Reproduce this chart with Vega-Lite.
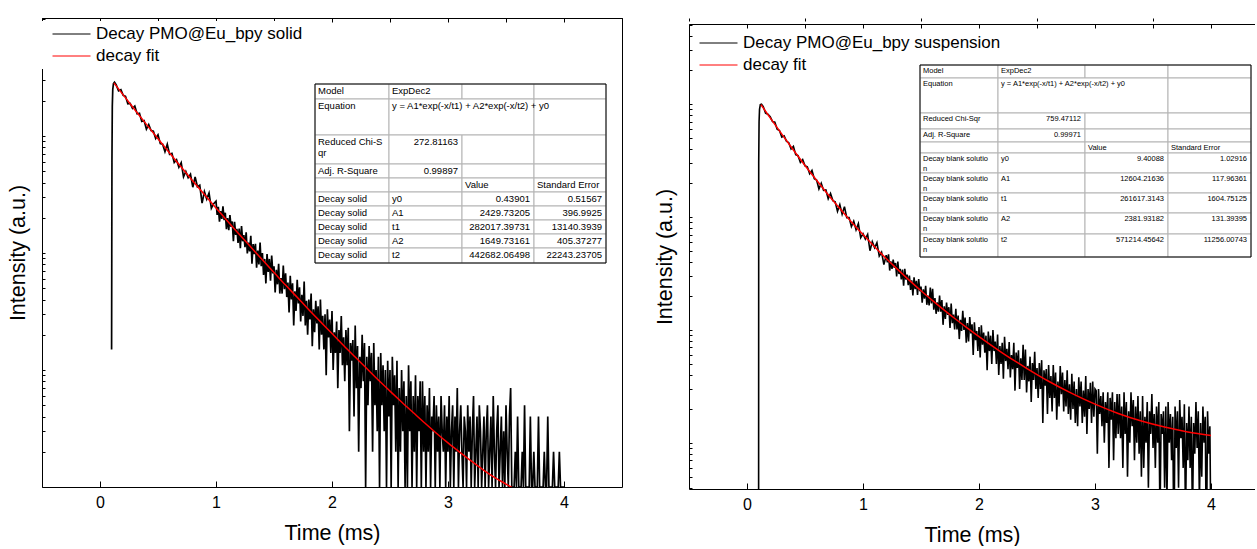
{
  "$schema": "https://vega.github.io/schema/vega-lite/v6.json",
  "background": "white",
  "padding": {"left": 7, "top": 17, "right": 0, "bottom": 0},
  "spacing": 31,
  "config": {
    "font": "Liberation Sans",
    "view": {"stroke": "black", "strokeWidth": 1},
    "axis": {"grid": false, "labelFont": "Liberation Sans", "titleFont": "Liberation Sans", "labelColor": "black", "titleColor": "black", "tickColor": "black", "domainColor": "black", "titleFontWeight": "normal", "labelFontSize": 16, "titleFontSize": 21.5},
    "legend": {"symbolType": "stroke", "symbolSize": 1444, "symbolStrokeWidth": 1, "symbolOffset": 10, "labelOffset": 5, "labelFontSize": 17, "labelFont": "Liberation Sans", "labelColor": "black", "rowPadding": 4, "clipHeight": 18, "padding": 4, "labelLimit": 500}
  },
  "datasets": {
    "solid": [{"t":0.1,"v":15},{"t":0.103,"v":600},{"t":0.106,"v":1800},{"t":0.11,"v":2500},{"t":0.116,"v":2800},{"t":0.125,"v":2880},{"t":0.14,"v":2730},{"t":0.16,"v":2437},{"t":0.18,"v":2489},{"t":0.2,"v":2224},{"t":0.22,"v":2184},{"t":0.24,"v":1882},{"t":0.26,"v":1897},{"t":0.28,"v":1722},{"t":0.3,"v":1801},{"t":0.32,"v":1550},{"t":0.34,"v":1563},{"t":0.36,"v":1332},{"t":0.38,"v":1355},{"t":0.4,"v":1143},{"t":0.42,"v":1254},{"t":0.44,"v":1112},{"t":0.46,"v":1098},{"t":0.48,"v":952},{"t":0.5,"v":1024},{"t":0.52,"v":860},{"t":0.54,"v":850},{"t":0.56,"v":735},{"t":0.58,"v":851},{"t":0.6,"v":697},{"t":0.62,"v":711},{"t":0.64,"v":593},{"t":0.66,"v":626},{"t":0.68,"v":540},{"t":0.7,"v":591},{"t":0.72,"v":448},{"t":0.74,"v":498},{"t":0.76,"v":440},{"t":0.78,"v":471},{"t":0.8,"v":365},{"t":0.82,"v":446},{"t":0.84,"v":368},{"t":0.86,"v":379},{"t":0.88,"v":267},{"t":0.9,"v":334},{"t":0.92,"v":289},{"t":0.94,"v":325},{"t":0.96,"v":241},{"t":0.98,"v":264},
      {"t":1,"v":277},{"t":1.01,"v":212},{"t":1.02,"v":248},{"t":1.03,"v":185},{"t":1.04,"v":228},{"t":1.05,"v":196},{"t":1.06,"v":250},{"t":1.07,"v":191},{"t":1.08,"v":221},{"t":1.09,"v":160},{"t":1.1,"v":199},{"t":1.11,"v":157},{"t":1.12,"v":211},{"t":1.13,"v":167},{"t":1.14,"v":186},{"t":1.15,"v":126},{"t":1.16,"v":185},{"t":1.17,"v":143},{"t":1.18,"v":161},{"t":1.19,"v":122},
      {"t":1.2,"v":162},{"t":1.21,"v":110},{"t":1.22,"v":170},{"t":1.23,"v":126},{"t":1.24,"v":142},{"t":1.25,"v":112},{"t":1.26,"v":150},{"t":1.27,"v":99},{"t":1.28,"v":123},{"t":1.29,"v":103},{"t":1.3,"v":140},{"t":1.31,"v":81},{"t":1.32,"v":119},{"t":1.33,"v":98},{"t":1.34,"v":120},{"t":1.35,"v":75},{"t":1.36,"v":105},{"t":1.37,"v":80},{"t":1.38,"v":123},{"t":1.39,"v":77},
      {"t":1.4,"v":100},{"t":1.41,"v":65},{"t":1.42,"v":89},{"t":1.43,"v":55},{"t":1.44,"v":98},{"t":1.45,"v":69},{"t":1.46,"v":89},{"t":1.47,"v":58},{"t":1.48,"v":95},{"t":1.49,"v":67},{"t":1.5,"v":77},{"t":1.51,"v":46},{"t":1.52,"v":72},{"t":1.53,"v":54},{"t":1.54,"v":81},{"t":1.55,"v":45},{"t":1.56,"v":61},{"t":1.57,"v":45},{"t":1.58,"v":78},{"t":1.59,"v":49},
      {"t":1.6,"v":67},{"t":1.61,"v":42},{"t":1.62,"v":56},{"t":1.63,"v":31},{"t":1.64,"v":64},{"t":1.65,"v":40},{"t":1.66,"v":55},{"t":1.67,"v":24},{"t":1.68,"v":47},{"t":1.69,"v":32},{"t":1.7,"v":59},{"t":1.71,"v":37},{"t":1.72,"v":51},{"t":1.73,"v":26},{"t":1.74,"v":44},{"t":1.75,"v":29},{"t":1.76,"v":57},{"t":1.77,"v":24},{"t":1.78,"v":39},{"t":1.79,"v":20},
      {"t":1.8,"v":40},{"t":1.81,"v":27},{"t":1.82,"v":45},{"t":1.83,"v":16},{"t":1.84,"v":33},{"t":1.85,"v":21},{"t":1.86,"v":39},{"t":1.87,"v":25},{"t":1.88,"v":35},{"t":1.89,"v":15},{"t":1.9,"v":40},{"t":1.91,"v":20},{"t":1.92,"v":29},{"t":1.93,"v":15},{"t":1.94,"v":30},{"t":1.95,"v":9},{"t":1.96,"v":33},{"t":1.97,"v":19},{"t":1.98,"v":27},{"t":1.99,"v":14},
      {"t":2,"v":32},{"t":2.01,"v":10},{"t":2.02,"v":21},{"t":2.03,"v":14},{"t":2.04,"v":26},{"t":2.05,"v":7},{"t":2.06,"v":22},{"t":2.07,"v":14},{"t":2.08,"v":29},{"t":2.09,"v":11},{"t":2.1,"v":19},{"t":2.11,"v":8},{"t":2.12,"v":22},{"t":2.13,"v":11},{"t":2.14,"v":23},{"t":2.15,"v":3},{"t":2.16,"v":17},{"t":2.17,"v":12},{"t":2.18,"v":18},{"t":2.19,"v":4},
      {"t":2.2,"v":24},{"t":2.21,"v":7},{"t":2.22,"v":16},{"t":2.23,"v":2},{"t":2.24,"v":13},{"t":2.25,"v":7},{"t":2.26,"v":20},{"t":2.27,"v":8},{"t":2.28,"v":17},{"t":2.29,"v":1},{"t":2.3,"v":13},{"t":2.31,"v":5},{"t":2.32,"v":16},{"t":2.33,"v":8},{"t":2.34,"v":14},{"t":2.35,"v":2},{"t":2.36,"v":17},{"t":2.37,"v":5},{"t":2.38,"v":10},{"t":2.39,"v":3},
      {"t":2.4,"v":13},{"t":2.41,"v":1},{"t":2.42,"v":14},{"t":2.43,"v":5},{"t":2.44,"v":11},{"t":2.45,"v":3},{"t":2.46,"v":10},{"t":2.47,"v":1},{"t":2.48,"v":12},{"t":2.49,"v":4},{"t":2.5,"v":10},{"t":2.51,"v":1},{"t":2.52,"v":13},{"t":2.53,"v":5},{"t":2.54,"v":9},{"t":2.55,"v":2},{"t":2.56,"v":12},{"t":2.57,"v":1},{"t":2.58,"v":7},{"t":2.59,"v":2},
      {"t":2.6,"v":10},{"t":2.61,"v":3},{"t":2.62,"v":8},{"t":2.63,"v":1},{"t":2.64,"v":6},{"t":2.65,"v":1},{"t":2.66,"v":11},{"t":2.67,"v":3},{"t":2.68,"v":8},{"t":2.69,"v":1},{"t":2.7,"v":6},{"t":2.71,"v":2},{"t":2.72,"v":9},{"t":2.73,"v":1},{"t":2.74,"v":6},{"t":2.75,"v":3},{"t":2.76,"v":8},{"t":2.77,"v":1},{"t":2.78,"v":8},{"t":2.79,"v":2},{"t":2.8,"v":6},
      {"t":2.81,"v":1},{"t":2.82,"v":5},{"t":2.83,"v":2},{"t":2.84,"v":7},{"t":2.85,"v":1},{"t":2.86,"v":4},{"t":2.87,"v":3},{"t":2.88,"v":6},{"t":2.89,"v":1},{"t":2.9,"v":5},{"t":2.91,"v":2},{"t":2.92,"v":4},{"t":2.93,"v":1},{"t":2.94,"v":6},{"t":2.95,"v":3},{"t":2.96,"v":2},{"t":2.97,"v":5},{"t":2.98,"v":1},{"t":2.99,"v":4},{"t":3,"v":2},
      {"t":3.01,"v":6},{"t":3.02,"v":1},{"t":3.03,"v":3},{"t":3.04,"v":5},{"t":3.05,"v":1},{"t":3.06,"v":4},{"t":3.07,"v":2},{"t":3.08,"v":7},{"t":3.09,"v":1},{"t":3.1,"v":3},{"t":3.11,"v":5},{"t":3.12,"v":2},{"t":3.13,"v":1},{"t":3.14,"v":4},{"t":3.15,"v":3},{"t":3.16,"v":1},{"t":3.17,"v":5},{"t":3.18,"v":2},{"t":3.19,"v":4},{"t":3.2,"v":1},
      {"t":3.21,"v":3},{"t":3.22,"v":6},{"t":3.23,"v":1},{"t":3.24,"v":2},{"t":3.25,"v":4},{"t":3.26,"v":1},{"t":3.27,"v":5},{"t":3.28,"v":3},{"t":3.29,"v":1},{"t":3.3,"v":2},{"t":3.31,"v":4},{"t":3.32,"v":1},{"t":3.33,"v":3},{"t":3.34,"v":5},{"t":3.35,"v":1},{"t":3.36,"v":2},{"t":3.37,"v":4},{"t":3.38,"v":1},{"t":3.39,"v":6},{"t":3.4,"v":2},
      {"t":3.41,"v":1},{"t":3.42,"v":3},{"t":3.43,"v":5},{"t":3.44,"v":1},{"t":3.45,"v":2},{"t":3.46,"v":4},{"t":3.47,"v":1},{"t":3.48,"v":3},{"t":3.49,"v":1},{"t":3.5,"v":5},{"t":3.51,"v":2},{"t":3.52,"v":1},{"t":3.53,"v":4},{"t":3.54,"v":7},{"t":3.55,"v":1},
      {"t":3.56,"v":1},{"t":3.57,"v":1},{"t":3.58,"v":2},{"t":3.59,"v":1},{"t":3.6,"v":4},{"t":3.61,"v":1},{"t":3.62,"v":1},{"t":3.63,"v":1},{"t":3.64,"v":2},{"t":3.65,"v":1},{"t":3.66,"v":5},{"t":3.67,"v":1},{"t":3.68,"v":1},{"t":3.69,"v":1},{"t":3.7,"v":1},{"t":3.71,"v":4},{"t":3.72,"v":1},{"t":3.73,"v":1},{"t":3.74,"v":2},{"t":3.75,"v":1},
      {"t":3.76,"v":1},{"t":3.77,"v":1},{"t":3.78,"v":4},{"t":3.79,"v":1},{"t":3.8,"v":1},{"t":3.81,"v":1},{"t":3.82,"v":1},{"t":3.83,"v":2},{"t":3.84,"v":1},{"t":3.85,"v":1},{"t":3.86,"v":4},{"t":3.87,"v":1},{"t":3.88,"v":1},{"t":3.89,"v":1},{"t":3.9,"v":1},{"t":3.91,"v":2},{"t":3.92,"v":1},{"t":3.93,"v":1},{"t":3.94,"v":1},{"t":3.95,"v":1},{"t":3.96,"v":2},{"t":3.97,"v":1},{"t":3.98,"v":1},{"t":3.99,"v":1},{"t":4,"v":1}],
    "solidFit": [{"t":0.12,"v":2845},{"t":0.2,"v":2246},{"t":0.3,"v":1676},{"t":0.4,"v":1257},{"t":0.5,"v":946},{"t":0.6,"v":715},{"t":0.7,"v":543},{"t":0.8,"v":413},{"t":0.9,"v":316},{"t":1,"v":243},{"t":1.1,"v":187},{"t":1.2,"v":144.5},{"t":1.3,"v":112.5},{"t":1.4,"v":87.4},{"t":1.5,"v":68.2},{"t":1.6,"v":53.2},{"t":1.7,"v":41.8},{"t":1.8,"v":32.8},{"t":1.9,"v":25.9},{"t":2,"v":20.5},{"t":2.1,"v":16.2},{"t":2.2,"v":12.9},{"t":2.3,"v":10.3},{"t":2.4,"v":8.2},{"t":2.5,"v":6.6},{"t":2.6,"v":5.33},{"t":2.7,"v":4.33},{"t":2.8,"v":3.52},{"t":2.9,"v":2.88},{"t":3,"v":2.38},{"t":3.1,"v":1.99},{"t":3.2,"v":1.67},{"t":3.3,"v":1.41},{"t":3.4,"v":1.21},{"t":3.5,"v":1.06},{"t":3.6,"v":0.93},{"t":3.7,"v":0.83}],
    "susp": [{"t":0.1,"v":1},{"t":0.101,"v":3000},{"t":0.104,"v":7000},{"t":0.108,"v":9000},{"t":0.115,"v":9900},{"t":0.125,"v":10000},{"t":0.14,"v":9515},{"t":0.16,"v":8330},{"t":0.18,"v":8155},{"t":0.2,"v":7732},{"t":0.22,"v":7015},{"t":0.24,"v":6930},{"t":0.26,"v":6001},{"t":0.28,"v":5834},{"t":0.3,"v":5108},{"t":0.32,"v":5244},{"t":0.34,"v":4704},{"t":0.36,"v":4559},{"t":0.38,"v":4001},{"t":0.4,"v":4220},{"t":0.42,"v":3575},{"t":0.44,"v":3499},{"t":0.46,"v":3043},{"t":0.48,"v":3225},{"t":0.5,"v":2842},{"t":0.52,"v":2790},{"t":0.54,"v":2424},{"t":0.56,"v":2596},{"t":0.58,"v":2182},{"t":0.6,"v":2126},{"t":0.62,"v":1774},{"t":0.64,"v":1989},{"t":0.66,"v":1725},{"t":0.68,"v":1737},{"t":0.7,"v":1452},{"t":0.72,"v":1620},{"t":0.74,"v":1399},{"t":0.76,"v":1364},{"t":0.78,"v":1123},{"t":0.8,"v":1290},{"t":0.82,"v":1058},{"t":0.84,"v":1236},{"t":0.86,"v":988},{"t":0.88,"v":991},{"t":0.9,"v":825},{"t":0.92,"v":920},{"t":0.94,"v":771},{"t":0.96,"v":876},{"t":0.98,"v":657},{"t":1,"v":711},{"t":1.02,"v":637},{"t":1.04,"v":701},{"t":1.06,"v":503},{"t":1.08,"v":606},{"t":1.1,"v":535},{"t":1.12,"v":592},{"t":1.14,"v":451},{"t":1.16,"v":488},{"t":1.18,"v":379},
      {"t":1.2,"v":459},{"t":1.21,"v":397},{"t":1.22,"v":468},{"t":1.23,"v":336},{"t":1.24,"v":406},{"t":1.25,"v":348},{"t":1.26,"v":420},{"t":1.27,"v":355},{"t":1.28,"v":392},{"t":1.29,"v":298},{"t":1.3,"v":404},{"t":1.31,"v":313},{"t":1.32,"v":347},{"t":1.33,"v":281},{"t":1.34,"v":343},{"t":1.35,"v":246},{"t":1.36,"v":348},{"t":1.37,"v":279},{"t":1.38,"v":309},{"t":1.39,"v":249},
      {"t":1.4,"v":303},{"t":1.41,"v":226},{"t":1.42,"v":275},{"t":1.43,"v":202},{"t":1.44,"v":293},{"t":1.45,"v":230},{"t":1.46,"v":272},{"t":1.47,"v":204},{"t":1.48,"v":282},{"t":1.49,"v":220},{"t":1.5,"v":242},{"t":1.51,"v":174},{"t":1.52,"v":229},{"t":1.53,"v":189},{"t":1.54,"v":246},{"t":1.55,"v":167},{"t":1.56,"v":202},{"t":1.57,"v":165},{"t":1.58,"v":237},{"t":1.59,"v":172},
      {"t":1.6,"v":231},{"t":1.61,"v":151},{"t":1.62,"v":192},{"t":1.63,"v":139},{"t":1.64,"v":176},{"t":1.65,"v":145},{"t":1.66,"v":202},{"t":1.67,"v":145},{"t":1.68,"v":184},{"t":1.69,"v":111},{"t":1.7,"v":162},{"t":1.71,"v":125},{"t":1.72,"v":175},{"t":1.73,"v":136},{"t":1.74,"v":159},{"t":1.75,"v":104},{"t":1.76,"v":171},{"t":1.77,"v":115},{"t":1.78,"v":137},{"t":1.79,"v":101},
      {"t":1.8,"v":154},{"t":1.81,"v":101},{"t":1.82,"v":134},{"t":1.83,"v":83},{"t":1.84,"v":123},{"t":1.85,"v":98},{"t":1.86,"v":148},{"t":1.87,"v":100},{"t":1.88,"v":129},{"t":1.89,"v":77},{"t":1.9,"v":115},{"t":1.91,"v":79},{"t":1.92,"v":130},{"t":1.93,"v":93},{"t":1.94,"v":112},{"t":1.95,"v":60},{"t":1.96,"v":117},{"t":1.97,"v":81},{"t":1.98,"v":98},{"t":1.99,"v":65},
      {"t":2,"v":106},{"t":2.01,"v":57},{"t":2.02,"v":110},{"t":2.03,"v":74},{"t":2.04,"v":95},{"t":2.05,"v":63},{"t":2.06,"v":89},{"t":2.07,"v":44},{"t":2.08,"v":97},{"t":2.09,"v":65},{"t":2.1,"v":89},{"t":2.11,"v":50},{"t":2.12,"v":100},{"t":2.13,"v":65},{"t":2.14,"v":79},{"t":2.15,"v":50},{"t":2.16,"v":91},{"t":2.17,"v":40},{"t":2.18,"v":72},{"t":2.19,"v":50},
      {"t":2.2,"v":77},{"t":2.21,"v":37},{"t":2.22,"v":87},{"t":2.23,"v":53},{"t":2.24,"v":68},{"t":2.25,"v":45},{"t":2.26,"v":78},{"t":2.27,"v":38},{"t":2.28,"v":60},{"t":2.29,"v":45},{"t":2.3,"v":77},{"t":2.31,"v":29},{"t":2.32,"v":63},{"t":2.33,"v":46},{"t":2.34,"v":66},{"t":2.35,"v":30},{"t":2.36,"v":56},{"t":2.37,"v":36},{"t":2.38,"v":74},{"t":2.39,"v":36},
      {"t":2.4,"v":67},{"t":2.41,"v":28},{"t":2.42,"v":48},{"t":2.43,"v":35},{"t":2.44,"v":58},{"t":2.45,"v":23},{"t":2.46,"v":51},{"t":2.47,"v":36},{"t":2.48,"v":64},{"t":2.49,"v":30},{"t":2.5,"v":46},{"t":2.51,"v":25},{"t":2.52,"v":51},{"t":2.53,"v":30},{"t":2.54,"v":54},{"t":2.55,"v":15},{"t":2.56,"v":44},{"t":2.57,"v":32},{"t":2.58,"v":45},{"t":2.59,"v":18},
      {"t":2.6,"v":49},{"t":2.61,"v":25},{"t":2.62,"v":39},{"t":2.63,"v":19},{"t":2.64,"v":49},{"t":2.65,"v":25},{"t":2.66,"v":42},{"t":2.67,"v":16},{"t":2.68,"v":35},{"t":2.69,"v":21},{"t":2.7,"v":48},{"t":2.71,"v":27},{"t":2.72,"v":42},{"t":2.73,"v":19},{"t":2.74,"v":36},{"t":2.75,"v":21},{"t":2.76,"v":44},{"t":2.77,"v":18},{"t":2.78,"v":33},{"t":2.79,"v":16},
      {"t":2.8,"v":41},{"t":2.81,"v":20},{"t":2.82,"v":35},{"t":2.83,"v":15},{"t":2.84,"v":30},{"t":2.85,"v":14},{"t":2.86,"v":38},{"t":2.87,"v":21},{"t":2.88,"v":35},{"t":2.89,"v":15},{"t":2.9,"v":29},{"t":2.91,"v":17},{"t":2.92,"v":39},{"t":2.93,"v":12},{"t":2.94,"v":30},{"t":2.95,"v":20},{"t":2.96,"v":34},{"t":2.97,"v":15},{"t":2.98,"v":35},{"t":2.99,"v":17},{"t":3,"v":30},
      {"t":3.01,"v":29},{"t":3.02,"v":8},{"t":3.03,"v":30},{"t":3.04,"v":18},{"t":3.05,"v":26},{"t":3.06,"v":14},{"t":3.07,"v":28},{"t":3.08,"v":10},{"t":3.09,"v":23},{"t":3.1,"v":15},{"t":3.11,"v":28},{"t":3.12,"v":6},{"t":3.13,"v":25},{"t":3.14,"v":16},{"t":3.15,"v":28},{"t":3.16,"v":7},{"t":3.17,"v":23},{"t":3.18,"v":11},{"t":3.19,"v":27},{"t":3.2,"v":12},
      {"t":3.21,"v":27},{"t":3.22,"v":11},{"t":3.23,"v":21},{"t":3.24,"v":6},{"t":3.25,"v":28},{"t":3.26,"v":12},{"t":3.27,"v":23},{"t":3.28,"v":5},{"t":3.29,"v":19},{"t":3.3,"v":10},{"t":3.31,"v":28},{"t":3.32,"v":14},{"t":3.33,"v":24},{"t":3.34,"v":7},{"t":3.35,"v":21},{"t":3.36,"v":10},{"t":3.37,"v":26},{"t":3.38,"v":8},{"t":3.39,"v":19},{"t":3.4,"v":5},
      {"t":3.41,"v":26},{"t":3.42,"v":6},{"t":3.43,"v":17},{"t":3.44,"v":10},{"t":3.45,"v":23},{"t":3.46,"v":4},{"t":3.47,"v":19},{"t":3.48,"v":12},{"t":3.49,"v":27},{"t":3.5,"v":9},{"t":3.51,"v":18},{"t":3.52,"v":6},{"t":3.53,"v":21},{"t":3.54,"v":10},{"t":3.55,"v":23},{"t":3.56,"v":2},{"t":3.57,"v":18},{"t":3.58,"v":12},{"t":3.59,"v":19},{"t":3.6,"v":4},
      {"t":3.61,"v":21},{"t":3.62,"v":3},{"t":3.63,"v":23},{"t":3.64,"v":10},{"t":3.65,"v":18},{"t":3.66,"v":7},{"t":3.67,"v":17},{"t":3.68,"v":1},{"t":3.69,"v":21},{"t":3.7,"v":9},{"t":3.71,"v":19},{"t":3.72,"v":4},{"t":3.73,"v":24},{"t":3.74,"v":11},{"t":3.75,"v":17},{"t":3.76,"v":6},{"t":3.77,"v":22},{"t":3.78,"v":2},{"t":3.79,"v":15},{"t":3.8,"v":7},
      {"t":3.81,"v":21},{"t":3.82,"v":6},{"t":3.83,"v":17},{"t":3.84,"v":2},{"t":3.85,"v":15},{"t":3.86,"v":8},{"t":3.87,"v":23},{"t":3.88,"v":9},{"t":3.89,"v":19},{"t":3.9,"v":3},{"t":3.91,"v":15},{"t":3.92,"v":5},{"t":3.93,"v":21},{"t":3.94,"v":10},{"t":3.95,"v":17},{"t":3.96,"v":1},{"t":3.97,"v":19},{"t":3.98,"v":8},{"t":3.99,"v":14},{"t":4,"v":1}],
    "suspFit": [{"t":0.12,"v":9909},{"t":0.2,"v":7556},{"t":0.3,"v":5422},{"t":0.4,"v":3924},{"t":0.5,"v":2866},{"t":0.6,"v":2115},{"t":0.7,"v":1577},{"t":0.8,"v":1188.5},{"t":0.9,"v":906},{"t":1,"v":699},{"t":1.1,"v":545},{"t":1.2,"v":429},{"t":1.3,"v":342},{"t":1.4,"v":275},{"t":1.5,"v":222.6},{"t":1.6,"v":181.9},{"t":1.7,"v":149.9},{"t":1.8,"v":124.3},{"t":1.9,"v":103.8},{"t":2,"v":87.3},{"t":2.2,"v":62.8},{"t":2.4,"v":46.4},{"t":2.6,"v":35.1},{"t":2.8,"v":27.4},{"t":3,"v":22},{"t":3.2,"v":18.2},{"t":3.4,"v":15.6},{"t":3.6,"v":13.8},{"t":3.8,"v":12.5},{"t":4,"v":11.6}],
    "tabL": [
      {"r":0,"r2":1,"c":0,"c2":1,"text":"Model","kind":"label"},{"r":0,"r2":1,"c":1,"c2":2,"text":"ExpDec2","kind":"label"},{"r":0,"r2":1,"c":2,"c2":3,"text":"","kind":"label"},{"r":0,"r2":1,"c":3,"c2":4,"text":"","kind":"label"},
      {"r":1,"r2":2,"c":0,"c2":1,"text":"Equation","kind":"label"},{"r":1,"r2":2,"c":1,"c2":3,"text":"y = A1*exp(-x/t1) + A2*exp(-x/t2) + y0","kind":"label"},{"r":1,"r2":2,"c":3,"c2":4,"text":"","kind":"label"},
      {"r":2,"r2":3,"c":0,"c2":1,"text":"Reduced Chi-S\nqr","kind":"label"},{"r":2,"r2":3,"c":1,"c2":2,"text":"272.81163","kind":"num"},{"r":2,"r2":3,"c":2,"c2":3,"text":"","kind":"label"},{"r":2,"r2":3,"c":3,"c2":4,"text":"","kind":"label"},
      {"r":3,"r2":4,"c":0,"c2":1,"text":"Adj. R-Square","kind":"label"},{"r":3,"r2":4,"c":1,"c2":2,"text":"0.99897","kind":"num"},{"r":3,"r2":4,"c":2,"c2":3,"text":"","kind":"label"},{"r":3,"r2":4,"c":3,"c2":4,"text":"","kind":"label"},
      {"r":4,"r2":5,"c":0,"c2":1,"text":"","kind":"label"},{"r":4,"r2":5,"c":1,"c2":2,"text":"","kind":"label"},{"r":4,"r2":5,"c":2,"c2":3,"text":"Value","kind":"label"},{"r":4,"r2":5,"c":3,"c2":4,"text":"Standard Error","kind":"label"},
      {"r":5,"r2":6,"c":0,"c2":1,"text":"Decay solid","kind":"label"},{"r":5,"r2":6,"c":1,"c2":2,"text":"y0","kind":"label"},{"r":5,"r2":6,"c":2,"c2":3,"text":"0.43901","kind":"num"},{"r":5,"r2":6,"c":3,"c2":4,"text":"0.51567","kind":"num"},
      {"r":6,"r2":7,"c":0,"c2":1,"text":"Decay solid","kind":"label"},{"r":6,"r2":7,"c":1,"c2":2,"text":"A1","kind":"label"},{"r":6,"r2":7,"c":2,"c2":3,"text":"2429.73205","kind":"num"},{"r":6,"r2":7,"c":3,"c2":4,"text":"396.9925","kind":"num"},
      {"r":7,"r2":8,"c":0,"c2":1,"text":"Decay solid","kind":"label"},{"r":7,"r2":8,"c":1,"c2":2,"text":"t1","kind":"label"},{"r":7,"r2":8,"c":2,"c2":3,"text":"282017.39731","kind":"num"},{"r":7,"r2":8,"c":3,"c2":4,"text":"13140.3939","kind":"num"},
      {"r":8,"r2":9,"c":0,"c2":1,"text":"Decay solid","kind":"label"},{"r":8,"r2":9,"c":1,"c2":2,"text":"A2","kind":"label"},{"r":8,"r2":9,"c":2,"c2":3,"text":"1649.73161","kind":"num"},{"r":8,"r2":9,"c":3,"c2":4,"text":"405.37277","kind":"num"},
      {"r":9,"r2":10,"c":0,"c2":1,"text":"Decay solid","kind":"label"},{"r":9,"r2":10,"c":1,"c2":2,"text":"t2","kind":"label"},{"r":9,"r2":10,"c":2,"c2":3,"text":"442682.06498","kind":"num"},{"r":9,"r2":10,"c":3,"c2":4,"text":"22243.23705","kind":"num"}
    ],
    "tabR": [
      {"r":0,"r2":1,"c":0,"c2":1,"text":"Model","kind":"label"},{"r":0,"r2":1,"c":1,"c2":2,"text":"ExpDec2","kind":"label"},{"r":0,"r2":1,"c":2,"c2":3,"text":"","kind":"label"},{"r":0,"r2":1,"c":3,"c2":4,"text":"","kind":"label"},
      {"r":1,"r2":2,"c":0,"c2":1,"text":"Equation","kind":"label"},{"r":1,"r2":2,"c":1,"c2":3,"text":"y = A1*exp(-x/t1) + A2*exp(-x/t2) + y0","kind":"label"},{"r":1,"r2":2,"c":3,"c2":4,"text":"","kind":"label"},
      {"r":2,"r2":3,"c":0,"c2":1,"text":"Reduced Chi-Sqr","kind":"label"},{"r":2,"r2":3,"c":1,"c2":2,"text":"759.47112","kind":"num"},{"r":2,"r2":3,"c":2,"c2":3,"text":"","kind":"label"},{"r":2,"r2":3,"c":3,"c2":4,"text":"","kind":"label"},
      {"r":3,"r2":4,"c":0,"c2":1,"text":"Adj. R-Square","kind":"label"},{"r":3,"r2":4,"c":1,"c2":2,"text":"0.99971","kind":"num"},{"r":3,"r2":4,"c":2,"c2":3,"text":"","kind":"label"},{"r":3,"r2":4,"c":3,"c2":4,"text":"","kind":"label"},
      {"r":4,"r2":5,"c":0,"c2":1,"text":"","kind":"label"},{"r":4,"r2":5,"c":1,"c2":2,"text":"","kind":"label"},{"r":4,"r2":5,"c":2,"c2":3,"text":"Value","kind":"label"},{"r":4,"r2":5,"c":3,"c2":4,"text":"Standard Error","kind":"label"},
      {"r":5,"r2":6,"c":0,"c2":1,"text":"Decay blank solutio\nn","kind":"label"},{"r":5,"r2":6,"c":1,"c2":2,"text":"y0","kind":"label"},{"r":5,"r2":6,"c":2,"c2":3,"text":"9.40088","kind":"num"},{"r":5,"r2":6,"c":3,"c2":4,"text":"1.02916","kind":"num"},
      {"r":6,"r2":7,"c":0,"c2":1,"text":"Decay blank solutio\nn","kind":"label"},{"r":6,"r2":7,"c":1,"c2":2,"text":"A1","kind":"label"},{"r":6,"r2":7,"c":2,"c2":3,"text":"12604.21636","kind":"num"},{"r":6,"r2":7,"c":3,"c2":4,"text":"117.96361","kind":"num"},
      {"r":7,"r2":8,"c":0,"c2":1,"text":"Decay blank solutio\nn","kind":"label"},{"r":7,"r2":8,"c":1,"c2":2,"text":"t1","kind":"label"},{"r":7,"r2":8,"c":2,"c2":3,"text":"261617.3143","kind":"num"},{"r":7,"r2":8,"c":3,"c2":4,"text":"1604.75125","kind":"num"},
      {"r":8,"r2":9,"c":0,"c2":1,"text":"Decay blank solutio\nn","kind":"label"},{"r":8,"r2":9,"c":1,"c2":2,"text":"A2","kind":"label"},{"r":8,"r2":9,"c":2,"c2":3,"text":"2381.93182","kind":"num"},{"r":8,"r2":9,"c":3,"c2":4,"text":"131.39395","kind":"num"},
      {"r":9,"r2":10,"c":0,"c2":1,"text":"Decay blank solutio\nn","kind":"label"},{"r":9,"r2":10,"c":1,"c2":2,"text":"t2","kind":"label"},{"r":9,"r2":10,"c":2,"c2":3,"text":"571214.45642","kind":"num"},{"r":9,"r2":10,"c":3,"c2":4,"text":"11256.00743","kind":"num"}
    ]
  },
  "resolve": {"scale": {"color": "independent"}, "legend": {"color": "independent"}},
  "hconcat": [
    {
      "width": 580,
      "height": 469,
      "resolve": {"scale": {"x": "independent", "y": "independent"}},
      "layer": [
        {
          "data": {"name": "solid"},
          "mark": {"type": "line", "strokeWidth": 1.7, "clip": true},
          "encoding": {
            "x": {"field": "t", "type": "quantitative", "scale": {"domain": [-0.5, 4.5], "nice": false, "zero": false},
                  "axis": {"title": "Time (ms)", "values": [0, 1, 2, 3, 4], "format": "d", "tickSize": -6, "domain": false, "labelPadding": 13, "titlePadding": 12}},
            "y": {"field": "v", "type": "quantitative", "scale": {"type": "log", "domain": [1, 10200], "nice": false},
                  "axis": {"title": "Intensity (a.u.)", "labels": false, "tickSize": -3, "tickCount": 40, "domain": false, "titlePadding": 12}},
            "color": {"datum": "Decay PMO@Eu_bpy solid", "type": "nominal",
                      "scale": {"domain": ["Decay PMO@Eu_bpy solid", "decay fit"], "range": ["black", "red"]},
                      "legend": {"title": null, "orient": "none", "legendX": -4, "legendY": 3, "fillColor": "white"}}
          }
        },
        {
          "data": {"name": "solidFit"},
          "mark": {"type": "line", "strokeWidth": 1.5, "clip": true, "interpolate": "monotone"},
          "encoding": {
            "x": {"field": "t", "type": "quantitative", "scale": {"domain": [-0.5, 4.5], "nice": false, "zero": false},
                  "axis": {"title": null, "values": [-0.5, 0.5, 1.5, 2.5, 3.5, 4.5], "labels": false, "tickSize": -3, "domain": false}},
            "y": {"field": "v", "type": "quantitative", "scale": {"type": "log", "domain": [1, 10200], "nice": false}, "axis": null},
            "color": {"datum": "decay fit", "type": "nominal",
                      "scale": {"domain": ["Decay PMO@Eu_bpy solid", "decay fit"], "range": ["black", "red"]}}
          }
        },
        {
          "data": {"name": "solidFit"},
          "mark": {"type": "point", "opacity": 0},
          "encoding": {
            "x": {"field": "t", "type": "quantitative", "scale": {"domain": [-0.5, 4.5], "nice": false, "zero": false},
                  "axis": {"orient": "top", "title": null, "values": [-0.5, 0, 0.5, 1, 1.5, 2, 2.5, 3, 3.5, 4, 4.5], "labels": false, "tickSize": -4, "domain": false}},
            "y": {"field": "v", "type": "quantitative", "scale": {"type": "log", "domain": [1, 10200], "nice": false}, "axis": null}
          }
        },
        {
          "data": {"name": "tabL"},
          "mark": {"type": "rect", "fill": "white", "stroke": "#b4b4b4", "strokeWidth": 1},
          "encoding": {
            "x": {"field": "c", "type": "quantitative", "scale": {"domain": [0, 1, 2, 3, 4], "range": [273, 347, 420, 492, 564], "nice": false, "zero": false}, "axis": null},
            "x2": {"field": "c2"},
            "y": {"field": "r", "type": "quantitative", "scale": {"domain": [0, 1, 2, 3, 4, 5, 6, 7, 8, 9, 10], "range": [66, 81, 117, 146, 160, 174, 188, 202, 216, 230, 245], "nice": false, "zero": false}, "axis": null},
            "y2": {"field": "r2"}
          }
        },
        {
          "data": {"values": [{}]},
          "mark": {"type": "rect", "fillOpacity": 0, "stroke": "black", "strokeWidth": 1},
          "encoding": {
            "x": {"datum": 0, "type": "quantitative", "scale": {"domain": [0, 1, 2, 3, 4], "range": [273, 347, 420, 492, 564], "nice": false, "zero": false}, "axis": null},
            "x2": {"datum": 4},
            "y": {"datum": 0, "type": "quantitative", "scale": {"domain": [0, 1, 2, 3, 4, 5, 6, 7, 8, 9, 10], "range": [66, 81, 117, 146, 160, 174, 188, 202, 216, 230, 245], "nice": false, "zero": false}, "axis": null},
            "y2": {"datum": 10}
          }
        },
        {
          "data": {"name": "tabL"},
          "transform": [{"filter": "datum.kind == 'label'"}],
          "mark": {"type": "text", "align": "left", "baseline": "top", "dx": 3, "dy": 2, "fontSize": 9.5, "lineBreak": "\n", "lineHeight": 10.5, "color": "black"},
          "encoding": {
            "x": {"field": "c", "type": "quantitative", "scale": {"domain": [0, 1, 2, 3, 4], "range": [273, 347, 420, 492, 564], "nice": false, "zero": false}, "axis": null},
            "y": {"field": "r", "type": "quantitative", "scale": {"domain": [0, 1, 2, 3, 4, 5, 6, 7, 8, 9, 10], "range": [66, 81, 117, 146, 160, 174, 188, 202, 216, 230, 245], "nice": false, "zero": false}, "axis": null},
            "text": {"field": "text"}
          }
        },
        {
          "data": {"name": "tabL"},
          "transform": [{"filter": "datum.kind == 'num'"}],
          "mark": {"type": "text", "align": "right", "baseline": "top", "dx": -4, "dy": 2, "fontSize": 9.5, "color": "black"},
          "encoding": {
            "x": {"field": "c2", "type": "quantitative", "scale": {"domain": [0, 1, 2, 3, 4], "range": [273, 347, 420, 492, 564], "nice": false, "zero": false}, "axis": null},
            "y": {"field": "r", "type": "quantitative", "scale": {"domain": [0, 1, 2, 3, 4, 5, 6, 7, 8, 9, 10], "range": [66, 81, 117, 146, 160, 174, 188, 202, 216, 230, 245], "nice": false, "zero": false}, "axis": null},
            "text": {"field": "text"}
          }
        }
      ]
    },
    {
      "width": 566,
      "height": 471,
      "view": {"stroke": null},
      "resolve": {"scale": {"x": "independent", "y": "independent"}},
      "layer": [
        {
          "data": {"name": "susp"},
          "mark": {"type": "line", "strokeWidth": 1.6, "clip": true},
          "encoding": {
            "x": {"field": "t", "type": "quantitative", "scale": {"domain": [-0.5, 4.379], "nice": false, "zero": false},
                  "axis": {"title": "Time (ms)", "values": [0, 1, 2, 3, 4], "format": "d", "tickSize": -6, "domain": true, "labelPadding": 13, "titlePadding": 12}},
            "y": {"field": "v", "type": "quantitative", "scale": {"type": "log", "domain": [3.9, 51300], "range": [471, 6], "nice": false},
                  "axis": {"title": "Intensity (a.u.)", "labels": false, "tickSize": -3, "tickCount": 40, "domain": true, "titlePadding": 12}},
            "color": {"datum": "Decay PMO@Eu_bpy suspension", "type": "nominal",
                      "scale": {"domain": ["Decay PMO@Eu_bpy suspension", "decay fit"], "range": ["black", "red"]},
                      "legend": {"title": null, "orient": "none", "legendX": -4, "legendY": 12, "fillColor": null}}
          }
        },
        {
          "data": {"name": "suspFit"},
          "mark": {"type": "line", "strokeWidth": 1.5, "clip": true, "interpolate": "monotone"},
          "encoding": {
            "x": {"field": "t", "type": "quantitative", "scale": {"domain": [-0.5, 4.379], "nice": false, "zero": false},
                  "axis": {"title": null, "values": [-0.5, 0.5, 1.5, 2.5, 3.5], "labels": false, "tickSize": -3, "domain": false}},
            "y": {"field": "v", "type": "quantitative", "scale": {"type": "log", "domain": [3.9, 51300], "range": [471, 6], "nice": false}, "axis": null},
            "color": {"datum": "decay fit", "type": "nominal",
                      "scale": {"domain": ["Decay PMO@Eu_bpy suspension", "decay fit"], "range": ["black", "red"]}}
          }
        },
        {
          "data": {"name": "suspFit"},
          "mark": {"type": "point", "opacity": 0},
          "encoding": {
            "x": {"field": "t", "type": "quantitative", "scale": {"domain": [-0.5, 4.379], "nice": false, "zero": false},
                  "axis": {"orient": "top", "offset": -6, "title": null, "values": [-0.5, 0, 0.5, 1, 1.5, 2, 2.5, 3, 3.5, 4], "labels": false, "tickSize": -4, "domain": true}},
            "y": {"field": "v", "type": "quantitative", "scale": {"type": "log", "domain": [3.9, 51300], "range": [471, 6], "nice": false}, "axis": null}
          }
        },
        {
          "data": {"name": "tabR"},
          "mark": {"type": "rect", "fill": "white", "stroke": "#b4b4b4", "strokeWidth": 1},
          "encoding": {
            "x": {"field": "c", "type": "quantitative", "scale": {"domain": [0, 1, 2, 3, 4], "range": [231, 309, 396, 479, 562], "nice": false, "zero": false}, "axis": null},
            "x2": {"field": "c2"},
            "y": {"field": "r", "type": "quantitative", "scale": {"domain": [0, 1, 2, 3, 4, 5, 6, 7, 8, 9, 10], "range": [47, 60, 95, 111, 124, 135, 155, 175, 195, 216, 239], "nice": false, "zero": false}, "axis": null},
            "y2": {"field": "r2"}
          }
        },
        {
          "data": {"values": [{}]},
          "mark": {"type": "rect", "fillOpacity": 0, "stroke": "black", "strokeWidth": 1},
          "encoding": {
            "x": {"datum": 0, "type": "quantitative", "scale": {"domain": [0, 1, 2, 3, 4], "range": [231, 309, 396, 479, 562], "nice": false, "zero": false}, "axis": null},
            "x2": {"datum": 4},
            "y": {"datum": 0, "type": "quantitative", "scale": {"domain": [0, 1, 2, 3, 4, 5, 6, 7, 8, 9, 10], "range": [47, 60, 95, 111, 124, 135, 155, 175, 195, 216, 239], "nice": false, "zero": false}, "axis": null},
            "y2": {"datum": 10}
          }
        },
        {
          "data": {"name": "tabR"},
          "transform": [{"filter": "datum.kind == 'label'"}],
          "mark": {"type": "text", "align": "left", "baseline": "top", "dx": 3, "dy": 2, "fontSize": 7.5, "lineBreak": "\n", "lineHeight": 9.5, "color": "black"},
          "encoding": {
            "x": {"field": "c", "type": "quantitative", "scale": {"domain": [0, 1, 2, 3, 4], "range": [231, 309, 396, 479, 562], "nice": false, "zero": false}, "axis": null},
            "y": {"field": "r", "type": "quantitative", "scale": {"domain": [0, 1, 2, 3, 4, 5, 6, 7, 8, 9, 10], "range": [47, 60, 95, 111, 124, 135, 155, 175, 195, 216, 239], "nice": false, "zero": false}, "axis": null},
            "text": {"field": "text"}
          }
        },
        {
          "data": {"name": "tabR"},
          "transform": [{"filter": "datum.kind == 'num'"}],
          "mark": {"type": "text", "align": "right", "baseline": "top", "dx": -4, "dy": 2, "fontSize": 7.5, "color": "black"},
          "encoding": {
            "x": {"field": "c2", "type": "quantitative", "scale": {"domain": [0, 1, 2, 3, 4], "range": [231, 309, 396, 479, 562], "nice": false, "zero": false}, "axis": null},
            "y": {"field": "r", "type": "quantitative", "scale": {"domain": [0, 1, 2, 3, 4, 5, 6, 7, 8, 9, 10], "range": [47, 60, 95, 111, 124, 135, 155, 175, 195, 216, 239], "nice": false, "zero": false}, "axis": null},
            "text": {"field": "text"}
          }
        }
      ]
    }
  ]
}
